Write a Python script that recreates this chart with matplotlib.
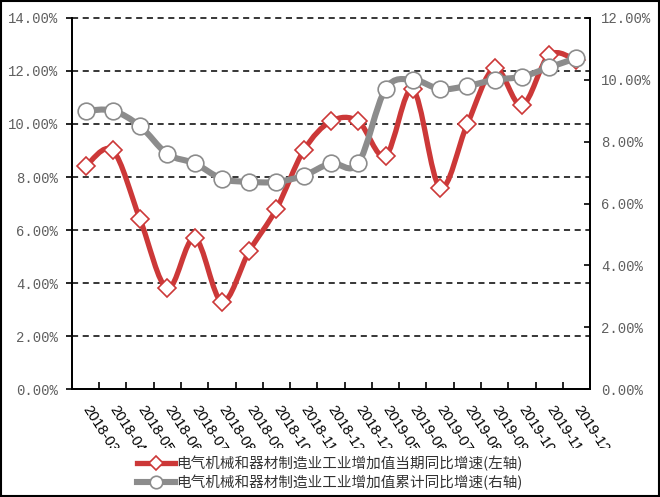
import matplotlib
matplotlib.use('Agg')
import matplotlib.pyplot as plt
from matplotlib.path import Path
from matplotlib.patches import PathPatch, Rectangle
from matplotlib.lines import Line2D
from matplotlib.ticker import FuncFormatter, MultipleLocator, FixedLocator

months = ['2018-03', '2018-04', '2018-05', '2018-06', '2018-07', '2018-08', '2018-09',
          '2018-10', '2018-11', '2018-12', '2018-12', '2019-05', '2019-06', '2019-07',
          '2019-08', '2019-09', '2019-10', '2019-11', '2019-12']
current_growth = [8.4, 9.0, 6.4, 3.8, 5.7, 3.3, 5.2, 6.8, 9.0, 10.1, 10.1, 8.8, 11.3,
                  7.6, 10.0, 12.1, 10.7, 12.6, 12.4]
cumulative_growth = [9.0, 9.0, 8.5, 7.6, 7.3, 6.8, 6.7, 6.7, 6.9, 7.3, 7.3, 9.7, 10.0,
                     9.7, 9.8, 10.0, 10.1, 10.4, 10.7]
label_current = '电气机械和器材制造业工业增加值当期同比增速(左轴)'
label_cumulative = '电气机械和器材制造业工业增加值累计同比增速(右轴)'

RED = '#CC3838'
GRAY = '#8C8C8C'
TICK_GRAY = '#5f5f5f'


def smooth_path(xs, ys):
    n = len(xs)
    verts = [(xs[0], ys[0])]
    codes = [Path.MOVETO]
    for i in range(n - 1):
        a = i - 1 if i > 0 else i
        b = i + 2 if i + 2 < n else i + 1
        c1 = (xs[i] + (xs[i + 1] - xs[a]) / 6.0, ys[i] + (ys[i + 1] - ys[a]) / 6.0)
        c2 = (xs[i + 1] - (xs[b] - xs[i]) / 6.0, ys[i + 1] - (ys[b] - ys[i]) / 6.0)
        verts += [c1, c2, (xs[i + 1], ys[i + 1])]
        codes += [Path.CURVE4] * 3
    return Path(verts, codes)


fig = plt.figure(figsize=(6.6, 4.97), dpi=100)
ax = fig.add_axes([0.109, 0.217, 0.785, 0.747])
ax2 = ax.twinx()

x = list(range(len(months)))

# left series (smoothed line + diamond markers)
ax.add_patch(PathPatch(smooth_path(x, current_growth), facecolor='none',
                       edgecolor=RED, lw=3.8, capstyle='round', joinstyle='round', zorder=3))
ax.plot(x, current_growth, linestyle='none', marker='D', markersize=9,
        markerfacecolor='white', markeredgecolor=RED, markeredgewidth=1.2, zorder=4)

# right series
ax2.add_patch(PathPatch(smooth_path(x, cumulative_growth), facecolor='none',
                        edgecolor=GRAY, lw=4.4, capstyle='round', joinstyle='round', zorder=3))
ax2.plot(x, cumulative_growth, linestyle='none', marker='o', markersize=12,
         markerfacecolor='white', markeredgecolor=GRAY, markeredgewidth=1.2, zorder=4)

ax.set_xlim(-0.5, len(months) - 0.5)
ax.set_ylim(0, 14)
ax2.set_ylim(0, 12)

pct = FuncFormatter(lambda v, p: f'{v:.2f}%')
ax.yaxis.set_major_locator(MultipleLocator(2))
ax.yaxis.set_major_formatter(pct)
ax2.yaxis.set_major_locator(MultipleLocator(2))
ax2.yaxis.set_major_formatter(pct)

for yv in range(2, 15, 2):
    ax.axhline(yv, color='black', lw=1.1, linestyle=(0, (4, 3)), zorder=1, clip_on=False)

ax.set_xticks(x)
ax.set_xticklabels(months, rotation=-57, ha='left', va='center', rotation_mode='anchor',
                   fontsize=10.5, family='Liberation Sans', color='black')
ax.xaxis.set_minor_locator(FixedLocator([i + 0.5 for i in range(len(months) - 1)]))
ax.tick_params(axis='x', which='major', length=0, pad=13)
ax.tick_params(axis='x', which='minor', length=5, direction='in', width=1.2, color='black')

ax.tick_params(axis='y', direction='out', length=4, width=1.2, pad=6, labelcolor=TICK_GRAY)
ax2.tick_params(axis='y', direction='in', length=4, width=1.2, pad=8, labelcolor=TICK_GRAY)
for lab in ax.get_yticklabels() + ax2.get_yticklabels():
    lab.set_family('Liberation Mono')
    lab.set_fontsize(10)

for a in (ax, ax2):
    a.spines['top'].set_visible(False)
    for s in ('left', 'right', 'bottom'):
        a.spines[s].set_linewidth(1.3)
        a.spines[s].set_color('black')

# white band to crop rotated labels under the legend area
fig.add_artist(Rectangle((0, 0), 1, 49 / 497, transform=fig.transFigure,
                         facecolor='white', edgecolor='none', zorder=4))

handles = [
    Line2D([], [], color=RED, lw=3.8, marker='D', markersize=7, markerfacecolor='white',
           markeredgecolor=RED, markeredgewidth=1.2),
    Line2D([], [], color=GRAY, lw=4.4, marker='o', markersize=9, markerfacecolor='white',
           markeredgecolor=GRAY, markeredgewidth=1.2),
]
leg = fig.legend(handles, [label_current, label_cumulative], loc='lower center',
                 bbox_to_anchor=(0.5, -0.012), frameon=False, handlelength=2.6,
                 handletextpad=0.1, labelspacing=0.2,
                 prop={'family': ['Noto Sans CJK SC', 'DejaVu Sans'], 'size': 10.5})
leg.set_zorder(6)
for t in leg.get_texts():
    t.set_color('#333333')

fig.add_artist(Rectangle((0.001, 0.002), 0.997, 0.996, transform=fig.transFigure,
                         facecolor='none', edgecolor='black', lw=1.5, zorder=10))

fig.savefig('out.png', dpi=100)
